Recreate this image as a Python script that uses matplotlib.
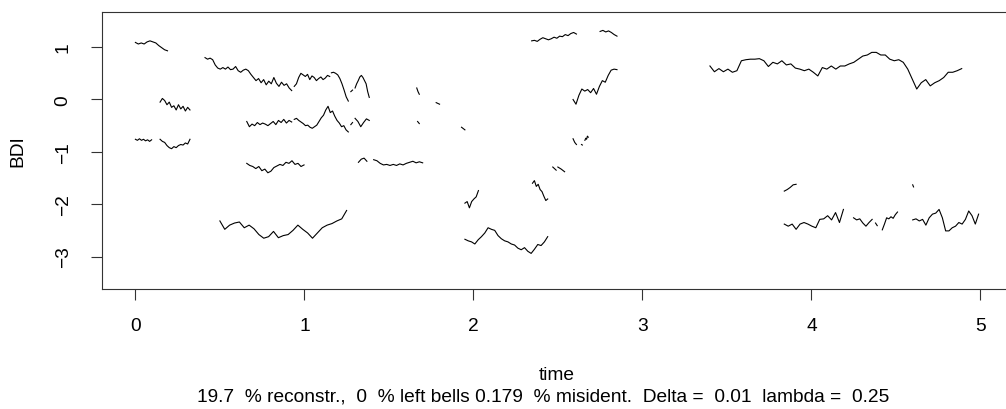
import matplotlib
matplotlib.use("Agg")
import matplotlib.pyplot as plt
import numpy as np

plt.rcParams["font.family"] = ["Liberation Sans", "DejaVu Sans"]
plt.rcParams["font.size"] = 13.8

# reconstructed pieces of the BDI curve: start time, end time, values
t_start = [0.00, 0.146, 0.00, 0.146, 0.412, 0.94, 1.16, 1.275, 1.30, 1.665, 1.78,
           0.659, 0.94, 1.275, 1.30, 1.67,
           0.659, 1.32, 1.41,
           0.50,
           2.345, 2.75, 2.59, 1.93, 2.59, 2.64, 2.66, 2.47, 2.50, 1.95, 2.35, 1.95,
           3.40, 3.84, 4.60, 3.84, 4.25, 4.38, 4.42, 4.60]
t_end = [0.19, 0.323, 0.096, 0.323, 0.925, 1.15, 1.26, 1.285, 1.384, 1.68, 1.80,
         0.925, 1.26, 1.285, 1.384, 1.68,
         0.998, 1.37, 1.70,
         1.25,
         2.61, 2.85, 2.85, 1.95, 2.61, 2.645, 2.68, 2.49, 2.54, 2.03, 2.44, 2.44,
         4.89, 3.91, 4.605, 4.19, 4.36, 4.39, 4.51, 4.99]
values = [
    [1.09, 1.06, 1.08, 1.06, 1.10, 1.12, 1.10, 1.08, 1.03, 0.99, 0.95, 0.93],
    [-0.05, 0.02, -0.02, -0.10, -0.05, -0.15, -0.12, -0.20, -0.10, -0.18, -0.13, -0.22, -0.15, -0.20],
    [-0.76, -0.78, -0.75, -0.78, -0.76, -0.79, -0.77, -0.80, -0.77],
    [-0.76, -0.80, -0.82, -0.88, -0.92, -0.94, -0.90, -0.92, -0.88, -0.86, -0.87, -0.83, -0.85, -0.76],
    [0.80, 0.77, 0.79, 0.76, 0.66, 0.60, 0.58, 0.61, 0.58, 0.62, 0.57, 0.58, 0.63, 0.55, 0.52, 0.56,
     0.58, 0.55, 0.48, 0.42, 0.36, 0.40, 0.32, 0.38, 0.28, 0.35, 0.30, 0.42, 0.31, 0.25, 0.33, 0.27,
     0.30, 0.22, 0.17],
    [0.25, 0.30, 0.42, 0.50, 0.47, 0.44, 0.48, 0.38, 0.45, 0.42, 0.36, 0.40, 0.43, 0.38, 0.41, 0.46, 0.44],
    [0.51, 0.52, 0.50, 0.47, 0.40, 0.30, 0.18, 0.05, -0.03],
    [0.15, 0.18],
    [0.22, 0.30, 0.36, 0.43, 0.46, 0.42, 0.36, 0.30, 0.15, 0.04],
    [0.22, 0.15, 0.10],
    [-0.06, -0.09],
    [-0.42, -0.52, -0.47, -0.50, -0.44, -0.48, -0.45, -0.47, -0.50, -0.46, -0.42, -0.48, -0.40,
     -0.44, -0.38, -0.45, -0.40, -0.43],
    [-0.38, -0.36, -0.40, -0.43, -0.46, -0.50, -0.49, -0.53, -0.55, -0.52, -0.49, -0.42, -0.35,
     -0.30, -0.20, -0.13, -0.25, -0.22, -0.32, -0.40, -0.45, -0.52, -0.50, -0.58, -0.62],
    [-0.48, -0.44],
    [-0.36, -0.42, -0.52, -0.44, -0.37, -0.40],
    [-0.42, -0.46],
    [-1.22, -1.26, -1.28, -1.32, -1.28, -1.36, -1.33, -1.40, -1.37, -1.30, -1.27, -1.24, -1.26,
     -1.20, -1.22, -1.17, -1.24, -1.22, -1.28, -1.25],
    [-1.20, -1.14, -1.12, -1.18],
    [-1.15, -1.17, -1.22, -1.25, -1.24, -1.26, -1.24, -1.26, -1.23, -1.25, -1.22, -1.20, -1.18,
     -1.21, -1.19, -1.21],
    [-2.32, -2.48, -2.40, -2.36, -2.34, -2.45, -2.40, -2.47, -2.58, -2.65, -2.62, -2.52, -2.64,
     -2.60, -2.58, -2.50, -2.40, -2.48, -2.55, -2.65, -2.55, -2.45, -2.40, -2.37, -2.32, -2.28, -2.12],
    [1.12, 1.13, 1.11, 1.15, 1.18, 1.16, 1.14, 1.16, 1.19, 1.17, 1.21, 1.20, 1.24, 1.22, 1.26, 1.28, 1.25],
    [1.30, 1.32, 1.29, 1.31, 1.28, 1.24, 1.21],
    [0.00, -0.09, 0.08, 0.20, 0.16, 0.19, 0.13, 0.21, 0.10, 0.25, 0.36, 0.33, 0.46, 0.56, 0.58, 0.57],
    [-0.53, -0.58],
    [-0.75, -0.82, -0.86],
    [-0.86, -0.87],
    [-0.78, -0.74, -0.76, -0.70, -0.72],
    [-1.29, -1.35],
    [-1.29, -1.33, -1.38],
    [-1.98, -1.95, -2.07, -1.95, -1.90, -1.86, -1.74],
    [-1.60, -1.55, -1.66, -1.62, -1.72, -1.76, -1.85, -1.93, -1.90],
    [-2.67, -2.70, -2.72, -2.76, -2.68, -2.62, -2.55, -2.45, -2.48, -2.50, -2.60, -2.66, -2.70,
     -2.72, -2.76, -2.78, -2.84, -2.87, -2.83, -2.90, -2.94, -2.86, -2.77, -2.79, -2.72, -2.62],
    [0.64, 0.53, 0.59, 0.53, 0.58, 0.52, 0.55, 0.74, 0.76, 0.77, 0.77, 0.78, 0.74, 0.63, 0.71,
     0.68, 0.74, 0.66, 0.68, 0.60, 0.58, 0.55, 0.58, 0.52, 0.45, 0.61, 0.58, 0.64, 0.58, 0.64,
     0.64, 0.68, 0.71, 0.77, 0.83, 0.85, 0.90, 0.90, 0.85, 0.85, 0.77, 0.74, 0.76, 0.71, 0.58,
     0.39, 0.20, 0.32, 0.38, 0.26, 0.32, 0.36, 0.42, 0.52, 0.52, 0.55, 0.59],
    [-1.75, -1.72, -1.68, -1.63, -1.62],
    [-1.63, -1.67],
    [-2.38, -2.42, -2.38, -2.48, -2.38, -2.35, -2.38, -2.42, -2.45, -2.29, -2.28, -2.22, -2.30,
     -2.16, -2.35, -2.10],
    [-2.26, -2.30, -2.28, -2.36, -2.42, -2.35, -2.29],
    [-2.36, -2.41],
    [-2.49, -2.38, -2.26, -2.28, -2.24, -2.27, -2.20, -2.15],
    [-2.30, -2.28, -2.32, -2.29, -2.40, -2.26, -2.19, -2.17, -2.10, -2.26, -2.51, -2.51, -2.45,
     -2.42, -2.35, -2.38, -2.29, -2.13, -2.22, -2.38, -2.19],
]

x_ticks = [0, 1, 2, 3, 4, 5]
y_ticks = [-3, -2, -1, 0, 1]
subtitle = "19.7  % reconstr.,  0  % left bells 0.179  % misident.  Delta =  0.01  lambda =  0.25"

fig = plt.figure(figsize=(10.06, 4.10), dpi=100)
ax = fig.add_axes([101.6 / 1006, 1 - 290 / 410, 910.8 / 1006, 277.3 / 410])

for t0, t1, v in zip(t_start, t_end, values):
    t = np.linspace(t0, t1, len(v))
    ax.plot(t, v, color="black", lw=0.8)

ax.set_xlim(-0.2, 5.19)
ax.set_ylim(-3.62, 1.677)
ax.set_xticks(x_ticks)
ax.set_yticks(y_ticks)
ax.set_yticklabels([str(v).replace("-", "\u2212") for v in y_ticks], rotation=90, va="center")
ax.tick_params(direction="out", length=8, width=0.8, color="#333333")
ax.tick_params(axis="x", pad=12.5)
ax.tick_params(axis="y", pad=13.5)
for s in ax.spines.values():
    s.set_linewidth(0.8)
    s.set_color("#333333")

ax.set_xlabel("time", labelpad=23)
ax.set_ylabel("BDI", labelpad=20.5)
fig.text(0.54, 1 - 397 / 410, subtitle, ha="center", va="center")

fig.savefig("out.png", dpi=100)
